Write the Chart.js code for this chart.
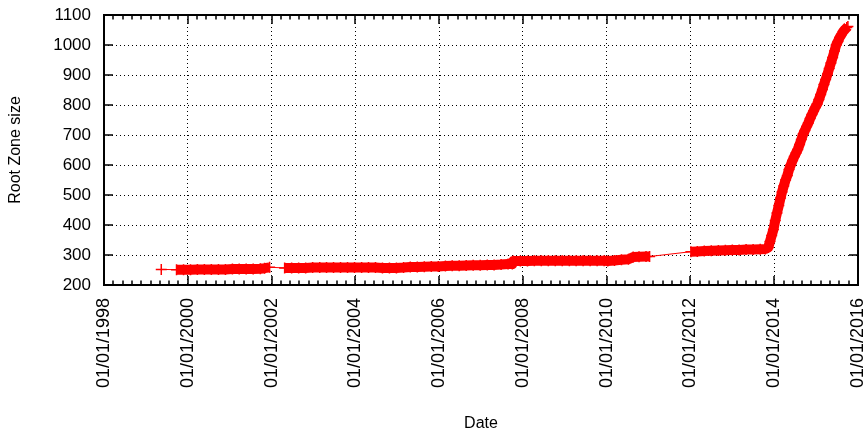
<!DOCTYPE html>
<html><head><meta charset="utf-8">
<script src="https://cdn.jsdelivr.net/npm/chart.js@4"></script>
<style>html,body{margin:0;padding:0;background:#fff}#wrap{width:868px;height:432px}</style>
</head><body><div id="wrap"><canvas id="c" width="868" height="432"></canvas></div>
<script>
// ---- data ----
const dates = [
 '1999-05-15',
 '1999-09-25','1999-11-25','2000-01-25','2000-03-25','2000-05-25','2000-07-25','2000-09-25','2000-11-25',
 '2001-01-25','2001-03-25','2001-05-25','2001-07-25','2001-09-25','2001-11-01','2001-12-15',
 '2002-04-25','2002-06-25','2002-08-25','2002-10-25','2002-12-25','2003-02-25','2003-04-25','2003-06-25',
 '2003-08-25','2003-10-25','2003-12-25','2004-02-25','2004-04-25','2004-06-25','2004-08-25','2004-10-25',
 '2004-12-25','2005-02-25','2005-04-25','2005-06-25','2005-08-25','2005-10-25','2005-12-25','2006-02-25',
 '2006-04-25','2006-06-25','2006-08-25','2006-10-25','2006-12-25','2007-02-25','2007-04-25','2007-06-25',
 '2007-08-25','2007-10-01',
 '2007-10-10','2007-12-10','2008-02-10','2008-04-10','2008-06-10','2008-08-10','2008-10-10','2008-12-10',
 '2009-02-10','2009-04-10','2009-06-10','2009-08-10','2009-10-10','2009-12-10','2010-01-10','2010-03-10',
 '2010-05-10','2010-07-10','2010-08-20','2010-10-10','2010-12-10','2011-01-10',
 '2012-01-05','2012-03-01','2012-05-01','2012-07-01','2012-09-01','2012-11-01','2013-01-01','2013-03-01',
 '2013-05-01','2013-07-01','2013-09-01','2013-10-15',
 '2013-11-10','2013-11-25','2013-12-10','2013-12-25','2014-01-10','2014-01-25','2014-02-10','2014-02-25',
 '2014-03-10','2014-03-25','2014-04-10','2014-04-25','2014-05-10','2014-05-25','2014-06-10','2014-06-25',
 '2014-07-10','2014-07-25','2014-08-10','2014-08-25','2014-09-10','2014-09-25','2014-10-10','2014-10-25',
 '2014-11-10','2014-11-25','2014-12-10','2014-12-25','2015-01-10','2015-01-25','2015-02-10','2015-02-25',
 '2015-03-10','2015-03-25','2015-04-10','2015-04-25','2015-05-10','2015-05-25','2015-06-10','2015-06-25',
 '2015-07-10','2015-07-25','2015-08-10','2015-08-25','2015-09-10','2015-09-25','2015-10-05'
];
const rootZoneSize = [
 252,
 251,251,251,252,252,252,252,252,
 253,253,253,253,254,256,259,
 257,257,257,257,258,258,258,258,
 258,258,258,258,258,258,257,257,
 257,258,260,260,261,262,262,263,
 264,264,265,266,266,267,267,268,
 270,270,
 280,280,280,281,281,281,281,281,
 281,281,281,281,281,281,280,282,
 284,286,293,294,295,295,
 311,312,313,314,315,316,317,317,
 318,318,319,320,
 325,345,365,385,415,440,465,490,
 510,530,550,565,585,600,615,628,
 640,652,668,685,703,715,728,740,
 755,768,780,792,803,818,835,852,
 868,885,903,922,940,958,980,1000,
 1012,1025,1035,1045,1052,1058,1062
];
const xTickYears = [1998,2000,2002,2004,2006,2008,2010,2012,2014,2016];
const yTickValues = [200,300,400,500,600,700,800,900,1000,1100];
const xTickPrefix = '01/01/';
const xTitle = 'Date';
const yTitle = 'Root Zone size';

// ---- helpers ----
function decYear(s){
  const [y,m,d] = s.split('-').map(Number);
  const t = Date.UTC(y,m-1,d), a = Date.UTC(y,0,1), b = Date.UTC(y+1,0,1);
  return y + (t-a)/(b-a);
}
const points = dates.map((d,i)=>({x:decYear(d), y:rootZoneSize[i]}));
const FONT = "'Liberation Sans', Arial, Helvetica, sans-serif";
const MINOR_PER_MAJOR = 9;

const framePlugin = {
  id:'frame',
  afterDatasetsDraw(chart){
    const {ctx, chartArea:a, scales:{x,y}} = chart;
    ctx.save();
    ctx.strokeStyle = '#000';
    ctx.lineWidth = 1.5;
    ctx.beginPath();
    for (let i=0;i<xTickYears.length;i++){
      const px = Math.round(x.getPixelForValue(xTickYears[i]));
      ctx.moveTo(px, a.bottom); ctx.lineTo(px, a.bottom-9);
      ctx.moveTo(px, a.top); ctx.lineTo(px, a.top+9);
      if (i < xTickYears.length-1){
        const step = (xTickYears[i+1]-xTickYears[i])/MINOR_PER_MAJOR;
        for (let k=1;k<MINOR_PER_MAJOR;k++){
          const mx = Math.round(x.getPixelForValue(xTickYears[i]+k*step));
          ctx.moveTo(mx, a.bottom); ctx.lineTo(mx, a.bottom-4.5);
          ctx.moveTo(mx, a.top); ctx.lineTo(mx, a.top+4.5);
        }
      }
    }
    for (const v of yTickValues){
      const py = Math.round(y.getPixelForValue(v));
      ctx.moveTo(a.left, py); ctx.lineTo(a.left+9, py);
      ctx.moveTo(a.right, py); ctx.lineTo(a.right-9, py);
    }
    ctx.stroke();
    ctx.lineWidth = 2;
    ctx.strokeRect(a.left, a.top, a.right-a.left, a.bottom-a.top);
    ctx.restore();
  }
};

new Chart(document.getElementById('c'), {
  type:'line',
  data:{datasets:[{
    data: points,
    borderColor:'#ff0000',
    backgroundColor:'#ff0000',
    borderWidth:1,
    pointStyle:'cross',
    pointRadius:5.5,
    pointBorderWidth:1.5,
    pointHoverRadius:5.5,
    borderCapStyle:'butt',
    borderJoinStyle:'round',
    tension:0,
    fill:false,
    segment:{
      borderWidth: c => (c.p1.parsed.x - c.p0.parsed.x > 0.25 ? 1 : 10)
    }
  }]},
  plugins:[framePlugin],
  options:{
    responsive:false,
    animation:false,
    devicePixelRatio:1,
    layout:{padding:{left:0,right:10,top:15,bottom:0}},
    plugins:{legend:{display:false},tooltip:{enabled:false}},
    scales:{
      x:{
        type:'linear', min:1998, max:2016,
        afterBuildTicks: s => { s.ticks = xTickYears.map(v=>({value:v})); },
        afterFit: s => { s.height = 147; s.paddingLeft = 0; s.paddingRight = 0; },
        ticks:{
          autoSkip:false, minRotation:90, maxRotation:90, padding:13,
          color:'#000', font:{family:FONT, size:18},
          callback: v => xTickPrefix + v
        },
        grid:{color:'#000', lineWidth:1, drawTicks:false},
        border:{display:false, dash:[1,3]},
        title:{display:true, text:xTitle, color:'#000', font:{family:FONT, size:16, lineHeight:1}, padding:{top:0,bottom:0}}
      },
      y:{
        type:'linear', min:200, max:1100,
        afterBuildTicks: s => { s.ticks = yTickValues.map(v=>({value:v})); },
        afterFit: s => { s.width = 104; s.paddingTop = 0; s.paddingBottom = 0; },
        ticks:{padding:13, color:'#000', font:{family:FONT, size:17}, callback: v => String(v)},
        grid:{color:'#000', lineWidth:1, drawTicks:false},
        border:{display:false, dash:[1,3]},
        title:{display:true, text:yTitle, color:'#000', font:{family:FONT, size:16}, padding:{top:6,bottom:0}}
      }
    }
  }
});
</script>
</body></html>
